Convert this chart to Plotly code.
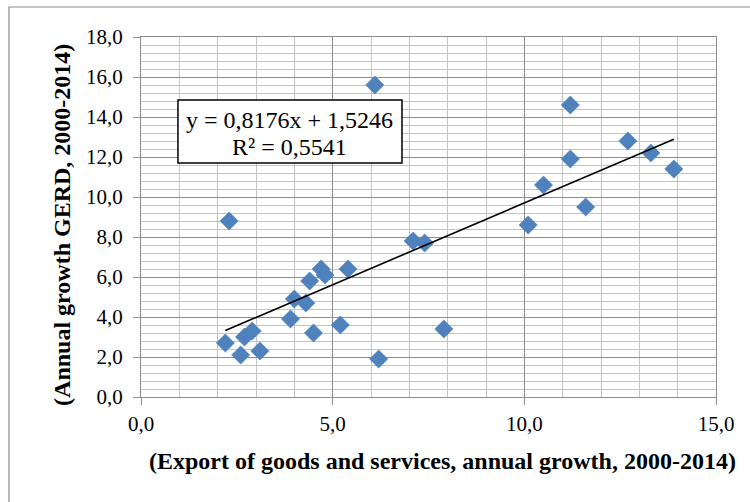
import plotly.graph_objects as go

# Annual growth rates, 2000-2014 (%)
export_growth = [2.3, 2.2, 2.6, 2.7, 2.9, 3.1, 3.9, 4.0, 4.3, 4.4, 4.5, 4.7, 4.8,
                 5.2, 5.4, 6.1, 6.2, 7.1, 7.4, 7.9, 10.1, 10.5, 11.2, 11.2, 11.6,
                 12.7, 13.3, 13.9]
gerd_growth = [8.8, 2.7, 2.1, 3.0, 3.3, 2.3, 3.9, 4.9, 4.7, 5.8, 3.2, 6.4, 6.1,
               3.6, 6.4, 15.6, 1.9, 7.8, 7.7, 3.4, 8.6, 10.6, 14.6, 11.9, 9.5,
               12.8, 12.2, 11.4]

# Linear trend as reported on the chart
slope = 0.8176
intercept = 1.5246
r_squared = 0.5541

x_title = "(Export of goods and services, annual growth, 2000-2014)"
y_title = "(Annual growth GERD, 2000-2014)"

FONT = "Liberation Serif"
MAJOR_GRID = "#8c8c8c"
MINOR_GRID = "#c4c4c4"

x_min, x_max = min(export_growth), max(export_growth)
trend_x = [x_min, x_max]
trend_y = [slope * v + intercept for v in trend_x]

fig = go.Figure()

fig.add_trace(go.Scatter(
    x=export_growth, y=gerd_growth, mode="markers",
    marker=dict(symbol="diamond", size=14, color="#4f81bd",
                line=dict(width=0.6, color="#4a7ebb")),
    showlegend=False, hoverinfo="x+y",
))

fig.add_trace(go.Scatter(
    x=trend_x, y=trend_y, mode="lines",
    line=dict(color="black", width=1.6),
    showlegend=False, hoverinfo="skip",
))

fmt = lambda v: f"{v:.4f}".replace(".", ",")

# Equation box
fig.add_shape(
    type="rect", xref="paper", yref="paper",
    x0=0.0643, x1=0.4539, y0=0.65, y1=0.825,
    line=dict(color="black", width=1.5), fillcolor="white", layer="above",
)
fig.add_annotation(
    x=0.259, y=0.7694, xref="paper", yref="paper",
    xanchor="center", yanchor="middle",
    text=f"y = {fmt(slope)}x + {fmt(intercept)}", showarrow=False,
    font=dict(family=FONT, size=24, color="black"),
)
fig.add_annotation(
    x=0.259, y=0.6944, xref="paper", yref="paper",
    xanchor="center", yanchor="middle",
    text=f"R² = {fmt(r_squared)}", showarrow=False,
    font=dict(family=FONT, size=24, color="black"),
)

# Axis titles
fig.add_annotation(
    x=0.524, y=-0.178, xref="paper", yref="paper",
    xanchor="center", yanchor="middle", text=f"<b>{x_title}</b>",
    showarrow=False, font=dict(family=FONT, size=24, color="black"),
)
fig.add_annotation(
    x=-0.1374, y=0.478, xref="paper", yref="paper",
    xanchor="center", yanchor="middle", text=f"<b>{y_title}</b>",
    textangle=-90, showarrow=False, font=dict(family=FONT, size=24, color="black"),
)

# Outer chart frame
fig.add_shape(
    type="rect", xref="paper", yref="paper",
    x0=-0.2296, y0=-0.32, x1=1.08, y1=1.0833,
    line=dict(color="#8a8a8a", width=1.2), fillcolor="rgba(0,0,0,0)",
    layer="below",
)

fig.update_xaxes(
    range=[0, 15], tick0=0, dtick=5, tickformat=".1f",
    showgrid=True, gridcolor=MAJOR_GRID, gridwidth=1.2,
    minor=dict(dtick=1, showgrid=True, gridcolor=MINOR_GRID, gridwidth=1.2, ticks=""),
    showline=True, linecolor=MAJOR_GRID, linewidth=1.2, mirror=True,
    ticks="outside", ticklen=7, tickcolor=MAJOR_GRID, tickwidth=1.2,
    ticklabelstandoff=1,
    tickfont=dict(family=FONT, size=21, color="black"),
    zeroline=False,
)
fig.update_yaxes(
    range=[0, 18], tick0=0, dtick=2, tickformat=".1f",
    showgrid=True, gridcolor=MAJOR_GRID, gridwidth=1.2,
    minor=dict(dtick=0.4, showgrid=True, gridcolor=MINOR_GRID, gridwidth=1.2, ticks=""),
    showline=True, linecolor=MAJOR_GRID, linewidth=1.2, mirror=True,
    ticks="outside", ticklen=7, tickcolor=MAJOR_GRID, tickwidth=1.2,
    ticklabelstandoff=6,
    tickfont=dict(family=FONT, size=21, color="black"),
    zeroline=False,
)

fig.update_layout(
    width=750, height=502,
    margin=dict(l=141, r=34, t=37, b=105),
    paper_bgcolor="white", plot_bgcolor="white",
    separators=",.",
    font=dict(family=FONT),
)

fig.write_html("out.html")
